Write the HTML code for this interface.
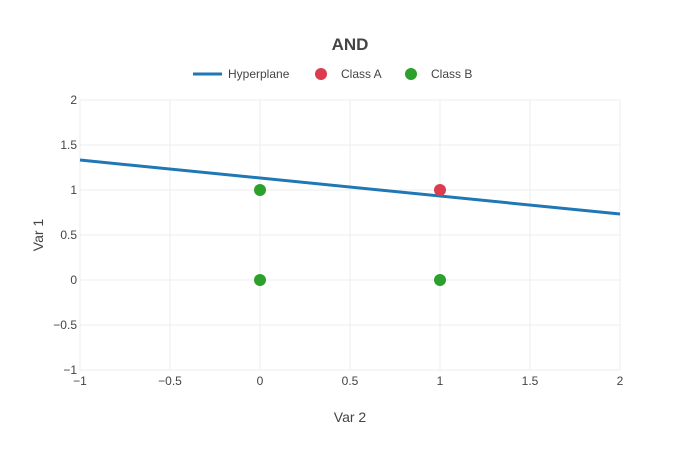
<!DOCTYPE html>
<html><head><meta charset="utf-8"><style>
body{margin:0;background:#fff;}
svg{display:block;font-family:"Liberation Sans",sans-serif;}
</style></head><body>
<svg id="chart" width="700" height="450"></svg>
<script>
const xTicks=[-1,-0.5,0,0.5,1,1.5,2];
const yTicks=[-1,-0.5,0,0.5,1,1.5,2];
const lineX=[-1,2];
const lineY=[1.333,0.733];
const classAX=[1];
const classAY=[1];
const classBX=[0,0,1];
const classBY=[1,0,0];

const svg=document.getElementById('chart');
const NS='http://www.w3.org/2000/svg';
const L=80,R=620,T=100,B=370;
const sx=v=>L+(v-(-1))/(3)*(R-L);
const sy=v=>B-(v-(-1))/(3)*(B-T);
function mk(tag,attrs,text){const e=document.createElementNS(NS,tag);for(const k in attrs)e.setAttribute(k,attrs[k]);if(text!==undefined)e.textContent=text;svg.appendChild(e);return e;}
const fmt=v=>(v<0?'\u2212'+Math.abs(v):String(v));

xTicks.forEach(t=>{
  const g=mk('line',{x1:sx(t),x2:sx(t),y1:T,y2:B,stroke:'#eeeeee','stroke-width':1});
  
  
  const lb=mk('text',{x:sx(t),y:B+15,'text-anchor':'middle','font-size':12,fill:'#444'},fmt(t));
  
  
});
yTicks.forEach(t=>{
  const g=mk('line',{x1:L,x2:R,y1:sy(t),y2:sy(t),stroke:'#eeeeee','stroke-width':1});
  
  
  const lb=mk('text',{x:L-3,y:sy(t)+4,'text-anchor':'end','font-size':12,fill:'#444'},fmt(t));
  
  
});

const hp=mk('line',{x1:sx(lineX[0]),y1:sy(lineY[0]),x2:sx(lineX[1]),y2:sy(lineY[1]),stroke:'#1f77b4','stroke-width':3});



classAX.forEach((x,i)=>{
  const c=mk('circle',{cx:sx(x),cy:sy(classAY[i]),r:6,fill:'#dc3c50'});
  
  
});
classBX.forEach((x,i)=>{
  const c=mk('circle',{cx:sx(x),cy:sy(classBY[i]),r:6,fill:'#2ca02c'});
  
  
});

let e;
e=mk('text',{x:350,y:50,'text-anchor':'middle','font-size':17,'font-weight':'bold',fill:'#444'},'AND');


e=mk('text',{x:350,y:422,'text-anchor':'middle','font-size':14,fill:'#444'},'Var 2');


e=mk('text',{x:43,y:235,'text-anchor':'middle','font-size':14,fill:'#444',transform:'rotate(-90 43 235)'},'Var 1');



e=mk('line',{x1:193,x2:222,y1:74,y2:74,stroke:'#1f77b4','stroke-width':3});


e=mk('text',{x:228,y:78,'font-size':12,fill:'#444'},'Hyperplane');


e=mk('circle',{cx:321,cy:74,r:6,fill:'#dc3c50'});


e=mk('text',{x:341,y:78,'font-size':12,fill:'#444'},'Class A');


e=mk('circle',{cx:411,cy:74,r:6,fill:'#2ca02c'});


e=mk('text',{x:431,y:78,'font-size':12,fill:'#444'},'Class B');


</script>
</body></html>
